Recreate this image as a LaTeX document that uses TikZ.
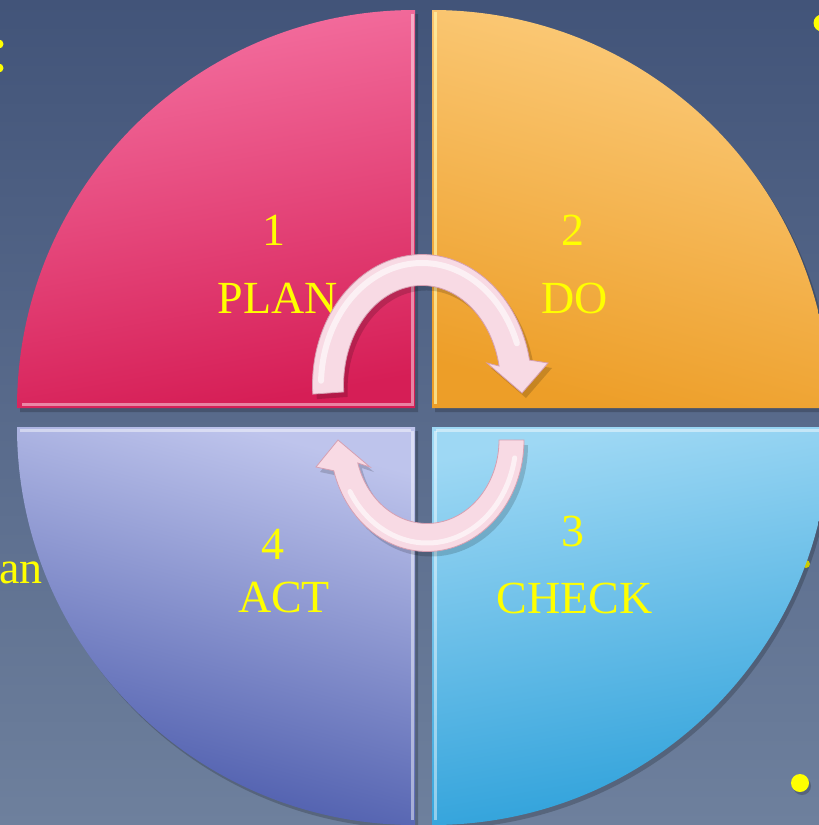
\documentclass[tikz,border=0pt]{standalone}
\usepackage{fontspec}
\setmainfont{Liberation Serif}
\usetikzlibrary{calc}
\definecolor{bgtop}{RGB}{66,84,121}
\definecolor{bgbot}{RGB}{110,128,157}
\definecolor{plantop}{RGB}{244,112,160}
\definecolor{planbot}{RGB}{214,30,86}
\definecolor{dotop}{RGB}{252,204,124}
\definecolor{dobot}{RGB}{237,158,40}
\definecolor{acttop}{RGB}{190,196,236}
\definecolor{actbot}{RGB}{72,88,170}
\definecolor{checktop}{RGB}{158,216,244}
\definecolor{checkbot}{RGB}{44,160,218}
\definecolor{arrowfill}{RGB}{248,218,228}
\definecolor{arrowedge}{RGB}{214,160,178}
\definecolor{ylw}{RGB}{255,255,0}
\newcommand\pdcaTL{(415,-408) -- (17,-408) arc[start angle=180,end angle=90,radius=398pt] -- cycle}
\newcommand\pdcaTR{(432,-408) -- (432,-10) arc[start angle=90,end angle=0,radius=398pt] -- cycle}
\newcommand\pdcaBL{(415,-427) -- (17,-427) arc[start angle=180,end angle=270,radius=398pt] -- cycle}
\newcommand\pdcaBR{(432,-427) -- (830,-427) arc[start angle=0,end angle=-90,radius=398pt] -- cycle}
\newcommand\pdcaTopArrow{(312.8,-394.1) arc[start angle=184,end angle=11,x radius=109.5pt,y radius=130.5pt] -- (548,-363) -- (522,-393) -- (487,-363) -- (499.1,-366.0) arc[start angle=11,end angle=184,x radius=78.5pt,y radius=99.5pt] -- cycle}
\newcommand\pdcaBotArrow{(524,-440) arc[start angle=0,end angle=-164,x radius=97pt,y radius=111.5pt] -- (316,-467) -- (338,-440) -- (370,-467) -- (357.8,-463.0) arc[start angle=-164,end angle=0,x radius=72pt,y radius=83.5pt] -- cycle}
\tikzset{
  lbl/.style={font=\fontsize{46}{50}\selectfont, text=ylw, inner sep=0pt, anchor=base},
  quadshadow/.style={fill=black, opacity=0.2},
  bevel/.style={line width=3pt, white, opacity=0.45},
  arrowbody/.style={fill=arrowfill, draw=arrowedge, line width=0.8pt},
  arrowshadow/.style={fill=black, opacity=0.16},
  arrowshine/.style={white, opacity=0.6, line cap=round},
  ydot/.style={fill=ylw}
}
\begin{document}
\begin{tikzpicture}[x=1pt,y=1pt]
\useasboundingbox (0,0) rectangle (819,-825);
\clip (0,0) rectangle (819,-825);
% background
\shade[top color=bgtop, bottom color=bgbot] (0,0) rectangle (819,-825);
% partial texts behind
\fill[ydot] (-1,-44) circle (4.5pt);
\fill[ydot] (-1,-68) circle (4.5pt);
\fill[ydot] (822,-23) circle (8.5pt);
\fill[ydot] (806,-564) circle (4pt);
\fill[black, opacity=0.2] (802,-786) circle (9pt);
\fill[ydot] (800,-783) circle (9pt);
\node[lbl, anchor=base east] (an) at (43,-583) {an};
% quadrant shadows
\begin{scope}[shift={(3,-4)}]
  \fill[quadshadow] \pdcaTL;
  \fill[quadshadow] \pdcaTR;
  \fill[quadshadow] \pdcaBL;
  \fill[quadshadow] \pdcaBR;
\end{scope}
% quadrants
\shade[top color=plantop, bottom color=planbot, shading angle=10] \pdcaTL;
\shade[top color=dotop, bottom color=dobot, shading angle=-15] \pdcaTR;
\shade[top color=acttop, bottom color=actbot, shading angle=-15] \pdcaBL;
\shade[top color=checktop, bottom color=checkbot, shading angle=10] \pdcaBR;
% bevel highlights
\draw[bevel] (412,-14) -- (412,-404) -- (22,-404);
\draw[bevel, color={rgb,255:red,255;green,245;blue,170}, opacity=0.7] (435,-12) -- (435,-404);
\draw[bevel] (412,-431) -- (412,-820);
\draw[bevel] (20,-430) -- (411,-430);
\draw[bevel] (435,-431) -- (435,-820);
\draw[bevel] (436,-430) -- (819,-430);
% labels
\node[lbl] (n1) at (274,-245) {1};
\node[lbl] (plan) at (278,-313) {PLAN};
\node[lbl] (n2) at (573,-245) {2};
\node[lbl] (do) at (574.5,-313) {DO};
\node[lbl] (n4) at (273,-559) {4};
\node[lbl] (act) at (284,-612) {ACT};
\node[lbl] (n3) at (573,-546) {3};
\node[lbl] (check) at (574.5,-613) {CHECK};
% arrows
\begin{scope}[shift={(4,-5)}]
  \fill[arrowshadow] \pdcaTopArrow;
  \fill[arrowshadow] \pdcaBotArrow;
\end{scope}
\path[arrowbody] \pdcaTopArrow;
\path[arrowbody] \pdcaBotArrow;
\draw[arrowshine, line width=6pt] (422,-385) ++(178:101pt and 122pt) arc[start angle=178,end angle=20,x radius=101pt,y radius=122pt];
\draw[arrowshine, line width=5pt] (427,-440) ++(-10:89pt and 103pt) arc[start angle=-10,end angle=-150,x radius=89pt,y radius=103pt];
\end{tikzpicture}
\end{document}
